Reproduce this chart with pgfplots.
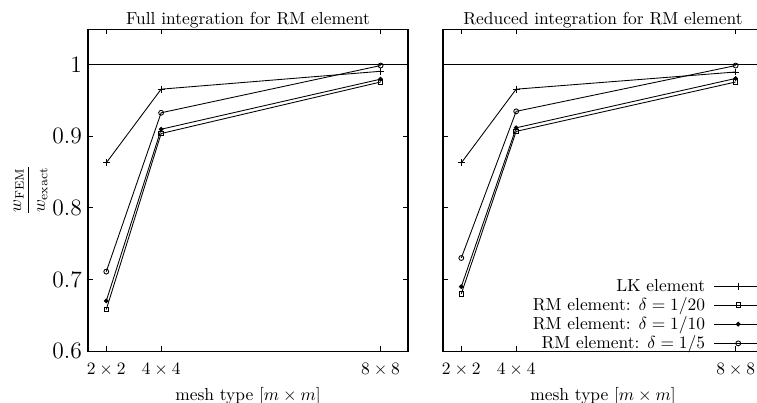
\documentclass[border=0pt]{standalone}
\usepackage{pgfplots}
\pgfplotsset{compat=1.18}
\begin{document}
\begin{tikzpicture}
\useasboundingbox (0pt,0pt) rectangle (434.5pt,230.75pt);
\clip (0pt,0pt) rectangle (434.5pt,230.75pt);
\pgfplotsset{
  panel/.style={
    scale only axis,
    width=183.7pt, height=184.8pt,
    xmin=0, xmax=70, ymin=0.6, ymax=1.05,
    xtick={4,16,64},
    xticklabels={$2\times2$,$4\times4$,$8\times8$},
    xticklabel style={yshift=-3.4pt},
    ytick={0.6,0.7,0.8,0.9,1},
    tick align=inside,
    major tick length=3pt,
    every tick/.style={black, line width=0.5pt},
    axis line style={line width=0.6pt},
    xlabel={mesh type $[m\times m]$},
    every axis title shift=0pt,
    title style={yshift=-3pt},
    every axis plot/.append style={black, line width=0.5pt},
  },
  lk/.style={mark=+, mark size=2pt},
  rm20/.style={mark=square, mark size=1.3pt},
  rm10/.style={mark=*, mark size=1.1pt},
  rm5/.style={mark=o, mark size=1.4pt},
}

% left panel
\begin{axis}[panel,
  at={(50.5pt,29.27pt)}, anchor=south west,
  title={Full integration for RM element},
  yticklabels={0.6,0.7,0.8,0.9,1},
  yticklabel style={font=\fontsize{13.5}{16}\selectfont},
  ylabel={$\displaystyle\frac{w_{\mathrm{FEM}}}{w_{\mathrm{exact}}}$},
  ylabel shift=-4pt,
]
\addplot[forget plot, mark=none] coordinates {(0,1) (70,1)};
\addplot[lk]   coordinates {(4,0.863) (16,0.966) (64,0.991)};
\addplot[rm20] coordinates {(4,0.658) (16,0.904) (64,0.976)};
\addplot[rm10] coordinates {(4,0.670) (16,0.910) (64,0.980)};
\addplot[rm5]  coordinates {(4,0.711) (16,0.933) (64,0.999)};
\end{axis}

% right panel
\begin{axis}[panel,
  at={(254.28pt,29.27pt)}, anchor=south west,
  title={Reduced integration for RM element},
  yticklabels={},
  legend style={draw=none, fill=none, at={(rel axis cs:1,0)}, anchor=south east,
    yshift=-2.3pt, cells={anchor=east}, inner sep=0pt, row sep=-2pt},
  legend plot pos=right,
  legend image code/.code={\path (-3pt,0pt);
    \draw[mark repeat=2,mark phase=2,#1]
    plot coordinates {(0pt,0pt) (13.8pt,0pt) (27.6pt,0pt)};},
]
\addplot[forget plot, mark=none] coordinates {(0,1) (70,1)};
\addplot[lk]   coordinates {(4,0.863) (16,0.966) (64,0.990)};
\addplot[rm20] coordinates {(4,0.680) (16,0.907) (64,0.976)};
\addplot[rm10] coordinates {(4,0.690) (16,0.912) (64,0.981)};
\addplot[rm5]  coordinates {(4,0.730) (16,0.935) (64,0.999)};
\legend{LK element, RM element: $\delta=1/20$, RM element: $\delta=1/10$, RM element: $\delta=1/5$}
\end{axis}
\end{tikzpicture}
\end{document}
